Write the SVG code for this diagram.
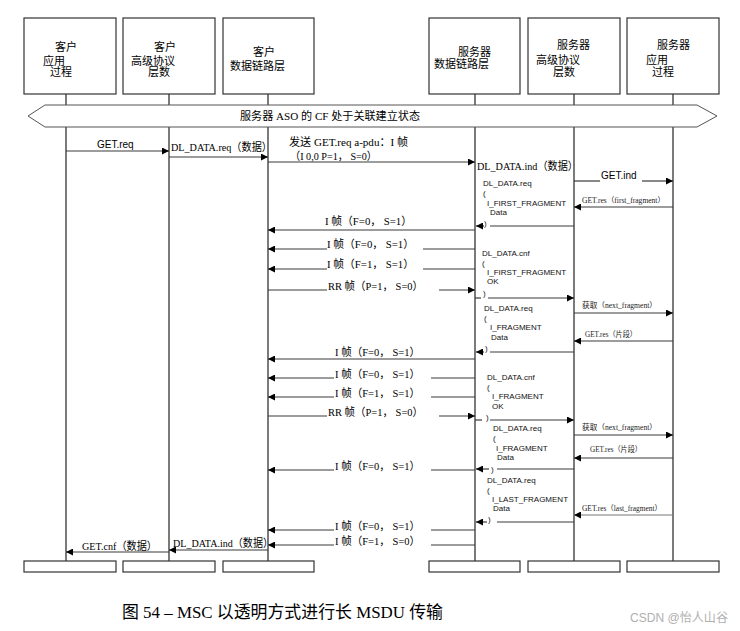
<svg xmlns="http://www.w3.org/2000/svg" width="740" height="631" viewBox="0 0 740 631">
<style>
.box{fill:#fff;stroke:#333;stroke-width:1.2}
.life{stroke:#333;stroke-width:1.3;fill:none}
.m{stroke:#3a3a3a;stroke-width:1.2;fill:none}
.ma{stroke:#3a3a3a;stroke-width:1.2;fill:none;marker-end:url(#ah)}
.mg{stroke:#777;stroke-width:1;fill:none;marker-end:url(#ah)}
.h{font-family:"Liberation Sans","Noto Sans CJK SC",sans-serif;font-size:11px;fill:#000}
.s{font-family:"Liberation Serif","Noto Sans CJK SC",serif;font-size:11px;fill:#000}
.ss{font-family:"Liberation Serif","Noto Sans CJK SC",serif;font-size:7.5px;fill:#222}
.a{font-family:"Liberation Sans","Noto Sans CJK SC",sans-serif;font-size:10px;fill:#000}
.b{font-family:"Liberation Sans","Noto Sans CJK SC",sans-serif;font-size:8px;fill:#111}
</style>
<defs>
<marker id="ah" viewBox="0 0 10 10" refX="10" refY="5" markerWidth="8" markerHeight="7" markerUnits="userSpaceOnUse" orient="auto">
<path d="M0,0L10,5L0,10z" fill="#000"/>
</marker>
</defs>
<rect width="740" height="631" fill="#fff"/>

<g id="lifelines">
<line class="life" x1="66" y1="94" x2="66" y2="561"/>
<line class="life" x1="169" y1="94" x2="169" y2="561"/>
<line class="life" x1="268" y1="94" x2="268" y2="561"/>
<line class="life" x1="475" y1="94" x2="475" y2="561"/>
<line class="life" x1="574" y1="94" x2="574" y2="561"/>
<line class="life" x1="673" y1="94" x2="673" y2="561"/>
</g>

<g id="client-ap">
<rect class="box" x="24" y="18" width="92" height="76"/>
<text class="h" x="55" y="51">客户</text>
<text class="h" x="43" y="65">应用</text>
<text class="h" x="50" y="76">过程</text>
<rect class="box" x="24" y="561" width="92" height="11"/>
</g>
<g id="client-hls">
<rect class="box" x="123" y="18" width="92" height="76"/>
<text class="h" x="154" y="51">客户</text>
<text class="h" x="131" y="65">高级协议</text>
<text class="h" x="148" y="76">层数</text>
<rect class="box" x="123" y="561" width="92" height="11"/>
</g>
<g id="client-dl">
<rect class="box" x="223" y="18" width="91" height="76"/>
<text class="h" x="253" y="56">客户</text>
<text class="h" x="230" y="70">数据链路层</text>
<rect class="box" x="223" y="561" width="91" height="11"/>
</g>
<g id="server-dl">
<rect class="box" x="429" y="18" width="91" height="76"/>
<text class="h" x="458" y="56">服务器</text>
<text class="h" x="434" y="68">数据链路层</text>
<rect class="box" x="429" y="561" width="91" height="11"/>
</g>
<g id="server-hls">
<rect class="box" x="528" y="18" width="92" height="76"/>
<text class="h" x="557" y="49">服务器</text>
<text class="h" x="536" y="64">高级协议</text>
<text class="h" x="553" y="76">层数</text>
<rect class="box" x="528" y="561" width="92" height="11"/>
</g>
<g id="server-ap">
<rect class="box" x="627" y="18" width="92" height="76"/>
<text class="h" x="657" y="49">服务器</text>
<text class="h" x="646" y="64">应用</text>
<text class="h" x="652" y="76">过程</text>
<rect class="box" x="627" y="561" width="92" height="11"/>
</g>

<g id="banner">
<polygon points="45,105 697,105 717,116 697,127 45,127 28,116" fill="#fff" stroke="#555" stroke-width="1"/>
<text class="s" x="240" y="120" textLength="180" lengthAdjust="spacingAndGlyphs">服务器 ASO 的 CF 处于关联建立状态</text>
</g>

<g id="connectors">
<!-- 1 -->
<line class="ma" x1="66" y1="151" x2="169" y2="151"/>
<text class="a" x="97" y="148">GET.req</text>
<!-- 2 -->
<line class="ma" x1="169" y1="157" x2="268" y2="157"/>
<text class="s" x="171" y="151" textLength="101" lengthAdjust="spacingAndGlyphs">DL_DATA.req（数据）</text>
<!-- 3 -->
<line class="ma" x1="268" y1="162" x2="475" y2="162"/>
<text class="s" x="289" y="146" textLength="119" lengthAdjust="spacingAndGlyphs">发送 GET.req a-pdu：I 帧</text>
<text class="s" x="290" y="160" textLength="87" lengthAdjust="spacingAndGlyphs">（I 0,0 P=1， S=0）</text>
<!-- 4 -->
<text class="s" x="477" y="170" textLength="101" lengthAdjust="spacingAndGlyphs">DL_DATA.ind（数据）</text>
<line class="m" x1="574" y1="181" x2="600" y2="181"/>
<text class="a" x="601" y="179">GET.ind</text>
<line class="ma" x1="642" y1="181" x2="673" y2="181"/>
<!-- 5 -->
<text class="ss" x="582" y="203" textLength="83" lengthAdjust="spacingAndGlyphs">GET.res（first_fragment）</text>
<line class="ma" x1="673" y1="207" x2="574" y2="207"/>
<!-- block 1 -->
<text class="b" x="483" y="186">DL_DATA.req</text>
<text class="b" x="483" y="196">(</text>
<text class="b" x="487" y="206">I_FIRST_FRAGMENT</text>
<text class="b" x="490" y="215">Data</text>
<text class="b" x="484" y="226">)</text>
<line class="m" x1="574" y1="226" x2="490" y2="226"/>
<line class="ma" x1="484" y1="226" x2="476" y2="226"/>
<!-- I frames -->
<line class="ma" x1="475" y1="230" x2="268" y2="230"/>
<text class="s" x="325" y="225" textLength="87" lengthAdjust="spacingAndGlyphs">I 帧（F=0， S=1）</text>
<line class="m" x1="475" y1="249" x2="423" y2="249"/>
<line class="ma" x1="327" y1="249" x2="268" y2="249"/>
<text class="s" x="327" y="248" textLength="87" lengthAdjust="spacingAndGlyphs">I 帧（F=0， S=1）</text>
<line class="m" x1="475" y1="269" x2="423" y2="269"/>
<line class="ma" x1="327" y1="269" x2="268" y2="269"/>
<text class="s" x="327" y="268" textLength="87" lengthAdjust="spacingAndGlyphs">I 帧（F=1， S=1）</text>
<line class="m" x1="268" y1="290" x2="327" y2="290"/>
<text class="s" x="328" y="290" textLength="95" lengthAdjust="spacingAndGlyphs">RR 帧（P=1， S=0）</text>
<line class="ma" x1="439" y1="290" x2="475" y2="290"/>
<!-- cnf block 1 -->
<text class="b" x="482" y="256">DL_DATA.cnf</text>
<text class="b" x="482" y="266">(</text>
<text class="b" x="487" y="275">I_FIRST_FRAGMENT</text>
<text class="b" x="487" y="284">OK</text>
<text class="b" x="483" y="296">)</text>
<line class="m" x1="475" y1="298" x2="481" y2="298"/>
<line class="ma" x1="488" y1="298" x2="574" y2="298"/>
<!-- next fragment 1 -->
<text class="ss" x="582" y="308" textLength="75" lengthAdjust="spacingAndGlyphs">获取（next_fragment）</text>
<line class="ma" x1="574" y1="313" x2="673" y2="313"/>
<text class="b" x="484" y="311">DL_DATA.req</text>
<text class="b" x="484" y="321">(</text>
<text class="b" x="490" y="330">I_FRAGMENT</text>
<text class="b" x="491" y="340">Data</text>
<text class="b" x="485" y="351">)</text>
<text class="ss" x="585" y="337" textLength="52" lengthAdjust="spacingAndGlyphs">GET.res（片段）</text>
<line class="ma" x1="673" y1="341" x2="574" y2="341"/>
<line class="m" x1="574" y1="352" x2="490" y2="352"/>
<line class="ma" x1="484" y1="352" x2="476" y2="352"/>
<line class="ma" x1="475" y1="359" x2="268" y2="359"/>
<text class="s" x="335" y="356" textLength="85" lengthAdjust="spacingAndGlyphs">I 帧（F=0， S=1）</text>
<line class="m" x1="475" y1="378" x2="431" y2="378"/>
<line class="ma" x1="334" y1="378" x2="268" y2="378"/>
<text class="s" x="335" y="378" textLength="85" lengthAdjust="spacingAndGlyphs">I 帧（F=0， S=1）</text>
<line class="m" x1="475" y1="397" x2="431" y2="397"/>
<line class="ma" x1="334" y1="397" x2="268" y2="397"/>
<text class="s" x="335" y="397" textLength="85" lengthAdjust="spacingAndGlyphs">I 帧（F=1， S=1）</text>
<!-- cnf block 2 -->
<text class="b" x="487" y="380">DL_DATA.cnf</text>
<text class="b" x="487" y="390">(</text>
<text class="b" x="492" y="399">I_FRAGMENT</text>
<text class="b" x="492" y="409">OK</text>
<text class="b" x="486" y="420">)</text>
<line class="m" x1="268" y1="416" x2="327" y2="416"/>
<text class="s" x="328" y="416" textLength="95" lengthAdjust="spacingAndGlyphs">RR 帧（P=1， S=0）</text>
<line class="ma" x1="439" y1="416" x2="475" y2="416"/>
<line class="m" x1="475" y1="420" x2="482" y2="420"/>
<line class="ma" x1="490" y1="420" x2="574" y2="420"/>
<!-- next fragment 2 -->
<text class="ss" x="582" y="430" textLength="75" lengthAdjust="spacingAndGlyphs">获取（next_fragment）</text>
<line class="ma" x1="574" y1="435" x2="673" y2="435"/>
<text class="b" x="493" y="431">DL_DATA.req</text>
<text class="b" x="493" y="441">(</text>
<text class="b" x="496" y="451">I_FRAGMENT</text>
<text class="b" x="497" y="460">Data</text>
<text class="b" x="491" y="472">)</text>
<text class="ss" x="590" y="452" textLength="52" lengthAdjust="spacingAndGlyphs">GET.res（片段）</text>
<line class="ma" x1="673" y1="458" x2="574" y2="458"/>
<line class="m" x1="574" y1="469" x2="497" y2="469"/>
<line class="ma" x1="489" y1="469" x2="476" y2="469"/>
<line class="m" x1="475" y1="470" x2="431" y2="470"/>
<line class="ma" x1="334" y1="470" x2="268" y2="470"/>
<text class="s" x="335" y="470" textLength="85" lengthAdjust="spacingAndGlyphs">I 帧（F=0， S=1）</text>
<!-- last fragment -->
<text class="b" x="487" y="483">DL_DATA.req</text>
<text class="b" x="487" y="493">(</text>
<text class="b" x="492" y="502">I_LAST_FRAGMENT</text>
<text class="b" x="493" y="511">Data</text>
<text class="b" x="488" y="522">)</text>
<text class="ss" x="582" y="511" textLength="80" lengthAdjust="spacingAndGlyphs">GET.res（last_fragment）</text>
<line class="mg" x1="673" y1="515" x2="574" y2="515"/>
<line class="m" x1="574" y1="522" x2="497" y2="522"/>
<line class="ma" x1="487" y1="522" x2="476" y2="522"/>
<line class="m" x1="475" y1="530" x2="431" y2="530"/>
<line class="ma" x1="334" y1="530" x2="268" y2="530"/>
<text class="s" x="335" y="530" textLength="85" lengthAdjust="spacingAndGlyphs">I 帧（F=0， S=1）</text>
<line class="m" x1="475" y1="545" x2="431" y2="545"/>
<line class="ma" x1="334" y1="545" x2="268" y2="545"/>
<text class="s" x="335" y="545" textLength="85" lengthAdjust="spacingAndGlyphs">I 帧（F=1， S=0）</text>
<!-- returns -->
<text class="s" x="173" y="547" textLength="100" lengthAdjust="spacingAndGlyphs">DL_DATA.ind（数据）</text>
<line class="ma" x1="268" y1="550" x2="169" y2="550"/>
<text class="s" x="82" y="550" textLength="75" lengthAdjust="spacingAndGlyphs">GET.cnf（数据）</text>
<line class="ma" x1="169" y1="552" x2="66" y2="552"/>
</g>

<text x="122" y="618" font-family="Liberation Serif, Noto Sans CJK SC, serif" font-size="17.5" fill="#000" textLength="321" lengthAdjust="spacingAndGlyphs">图 54 – MSC 以透明方式进行长 MSDU 传输</text>
<text x="630" y="622" font-family="Liberation Sans, Noto Sans CJK SC, sans-serif" font-size="12" fill="#b0b0b0" textLength="98" lengthAdjust="spacingAndGlyphs">CSDN @怡人山谷</text>
</svg>
